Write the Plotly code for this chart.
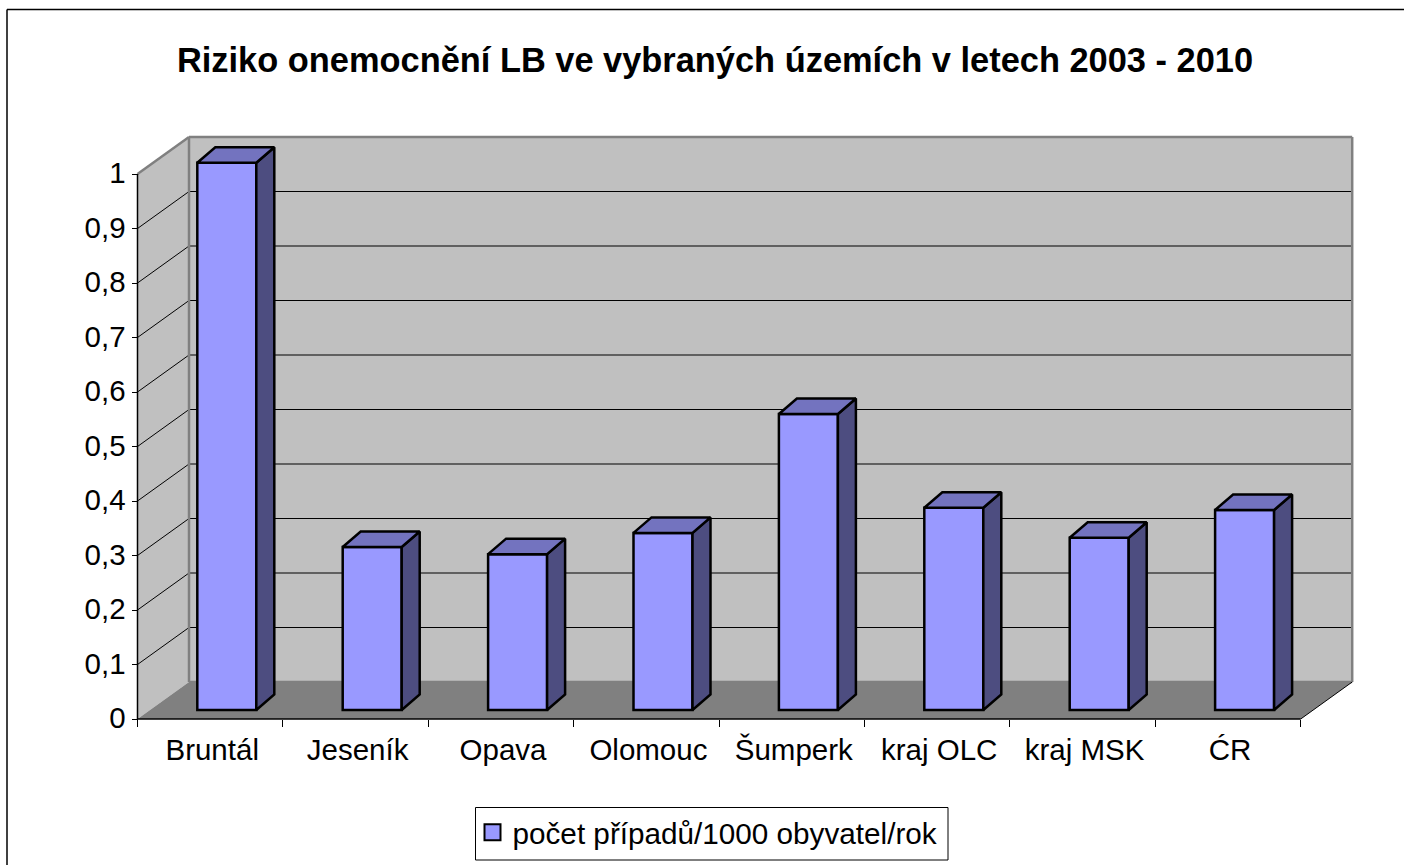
import plotly.graph_objects as go

title = "Riziko onemocnění LB ve vybraných územích v letech 2003 - 2010"
categories = ["Bruntál", "Jeseník", "Opava", "Olomouc", "Šumperk", "kraj OLC", "kraj MSK", "ĆR"]
values = [1.004, 0.299, 0.286, 0.325, 0.543, 0.371, 0.316, 0.367]
series_name = "počet případů/1000 obyvatel/rok"
y_ticks = [0, 0.1, 0.2, 0.3, 0.4, 0.5, 0.6, 0.7, 0.8, 0.9, 1]
y_labels = ["0", "0,1", "0,2", "0,3", "0,4", "0,5", "0,6", "0,7", "0,8", "0,9", "1"]

W, H = 1404, 865
X0, Y0 = 137.5, 719        # pixel of axis origin
CW, VH = 145.4, 545        # pixels per category, per unit
L, R, T, B = 130, 1360, 130, 727
DX, DY = 51.5 / CW, 37 / VH  # wall depth
BX, BY = 59.8 / CW, 9 / VH   # bar offset from the front plane
BW = 59 / CW                 # bar width
SX, SY = 18 / CW, 15.5 / VH  # bar depth
N = len(categories)
FONT = "Liberation Sans, Arial, sans-serif"

FRONT, TOP, SIDE = "#9999FF", "#7373BF", "#4D4D80"
WALL, FLOOR, EDGE = "#C0C0C0", "#808080", "#808080"

def poly(pts):
    return "M" + " L".join(f"{x},{y}" for x, y in pts) + " Z"

def seg(x0, y0, x1, y1, color="black", width=1):
    return dict(type="line", xref="x", yref="y", x0=x0, y0=y0, x1=x1, y1=y1,
                layer="below", line=dict(color=color, width=width))

shapes = [
    dict(type="path", xref="x", yref="y", layer="below", fillcolor=WALL, line=dict(width=0),
         path=poly([(DX, DY), (N + DX, DY), (N + DX, 1 + DY), (DX, 1 + DY)])),
    dict(type="path", xref="x", yref="y", layer="below", fillcolor=WALL, line=dict(width=0),
         path=poly([(0, 0), (DX, DY), (DX, 1 + DY), (0, 1)])),
    dict(type="path", xref="x", yref="y", layer="below", fillcolor=FLOOR, line=dict(width=0),
         path=poly([(0, 0), (N, 0), (N + DX, DY), (DX, DY)])),
]
for v in y_ticks[1:-1]:
    shapes.append(seg(0, v, DX, v + DY))
    shapes.append(seg(DX, v + DY, N + DX, v + DY))
shapes += [
    seg(DX, DY, DX, 1 + DY, EDGE, 2.5),
    seg(N + DX, DY, N + DX, 1 + DY, EDGE, 2.5),
    seg(DX, 1 + DY, N + DX, 1 + DY, EDGE, 2.5),
    seg(0, 1, DX, 1 + DY, EDGE, 2.5),
    seg(DX, DY, N + DX, DY, EDGE, 2.5),
    seg(N, 0, N + DX, DY, "black", 1),
    seg(0, 0, N, 0, "black", 1.5),
    seg(0, 0, 0, 1, "black", 1.5),
]
# outer chart frame and legend box, in paper fractions of the plot area
px = lambda p: (p - L) / (R - L)
py = lambda p: (B - p) / (B - T)
shapes += [
    dict(type="line", xref="paper", yref="paper", x0=px(7), y0=py(9.5), x1=px(W), y1=py(9.5),
         line=dict(color="black", width=1.5)),
    dict(type="line", xref="paper", yref="paper", x0=px(7), y0=py(9.5), x1=px(7), y1=py(H),
         line=dict(color="black", width=1.5)),
    dict(type="rect", xref="paper", yref="paper", x0=px(475.5), y0=py(807.5), x1=px(948), y1=py(860),
         line=dict(color="black", width=1)),
]

fig = go.Figure()
lefts = [i + BX for i in range(N)]
fig.add_trace(go.Bar(
    x=[l + BW / 2 for l in lefts], y=values, base=[BY] * N, width=BW,
    marker=dict(color=FRONT, line=dict(color="black", width=2.5)),
    showlegend=False, hoverinfo="skip"))
for l, v in zip(lefts, values):
    r, b, t = l + BW, BY, BY + v
    fig.add_trace(go.Scatter(
        x=[r, r + SX, r + SX, r, r], y=[b, b + SY, t + SY, t, b], mode="lines", fill="toself",
        fillcolor=SIDE, line=dict(color="black", width=2.5), showlegend=False, hoverinfo="skip"))
    fig.add_trace(go.Scatter(
        x=[l, l + SX, r + SX, r, l], y=[t, t + SY, t + SY, t, t], mode="lines", fill="toself",
        fillcolor=TOP, line=dict(color="black", width=2.5), showlegend=False, hoverinfo="skip"))
fig.add_trace(go.Scatter(
    x=[None], y=[None], mode="markers", name=series_name,
    marker=dict(symbol="square", size=16, color=FRONT, line=dict(color="black", width=2))))

fig.update_layout(
    width=W, height=H, autosize=False,
    margin=dict(l=L, r=W - R, t=T, b=H - B, pad=0, autoexpand=False),
    paper_bgcolor="white", plot_bgcolor="white",
    font=dict(family=FONT, color="black", size=29.5),
    title=dict(text=title, x=715 / W, y=1 - 60 / H, xref="container", yref="container",
               xanchor="center", yanchor="middle",
               font=dict(family=FONT, size=34.4, color="black", weight="bold")),
    shapes=shapes,
    xaxis=dict(range=[(L - X0) / CW, (R - X0) / CW], showgrid=False, zeroline=False, showline=False,
               tickvals=[i + 0.5 for i in range(N)], ticktext=categories, ticks="", tickangle=0,
               ticklabelstandoff=10, ticklabelshift=2, anchor="free", position=(B - Y0) / (B - T),
               minor=dict(ticks="outside", ticklen=7, tickwidth=1, tickcolor="black",
                          tick0=0, dtick=1, showgrid=False),
               tickfont=dict(size=29.5)),
    yaxis=dict(range=[(Y0 - B) / VH, (Y0 - T) / VH], showgrid=False, zeroline=False, showline=False,
               tickvals=y_ticks, ticktext=y_labels, ticks="outside", ticklen=6, tickwidth=1,
               tickcolor="black", anchor="free", position=(X0 - L) / (R - L),
               ticklabelshift=-1, tickfont=dict(size=29.5)),
    legend=dict(x=px(472.5), y=py(806.5), xanchor="left", yanchor="top",
                borderwidth=0, bgcolor="rgba(0,0,0,0)", font=dict(size=29.7), itemsizing="trace"),
)
fig.write_html("out.html", config={"displayModeBar": False},
               post_script="document.body.style.margin='0';document.body.style.overflow='hidden';")
